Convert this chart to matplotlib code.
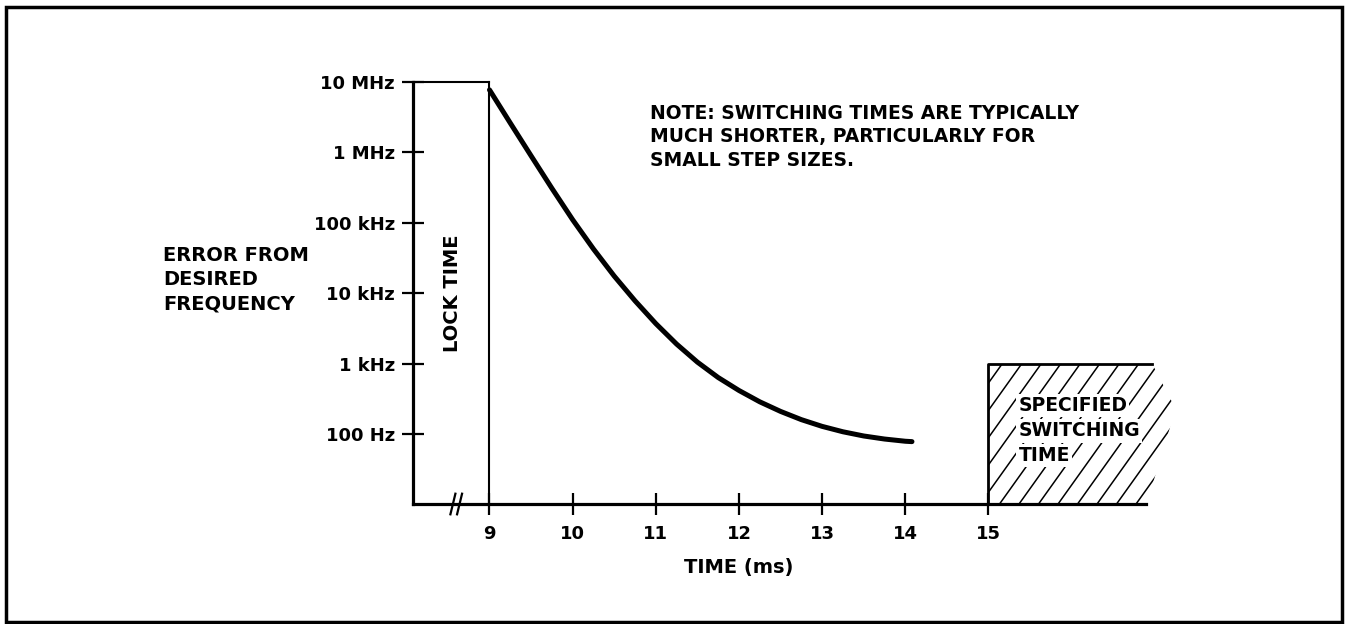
import matplotlib
matplotlib.use("Agg")
import numpy as np
import matplotlib.pyplot as plt
from matplotlib.patches import Rectangle, Polygon

plt.rcParams['font.family'] = ['DejaVu Sans']

# settling curve (time in ms, error in Hz)
curve_t = [9.0, 9.25, 9.5, 9.75, 10.0, 10.25, 10.5, 10.75, 11.0, 11.25, 11.5, 11.75,
           12.0, 12.25, 12.5, 12.75, 13.0, 13.25, 13.5, 13.75, 14.0, 14.08]
curve_err = [7.71e6, 2.61e6, 8.95e5, 3.1e5, 1.11e5, 4.27e4, 1.76e4, 7.85e3, 3.73e3, 1.91e3,
             1.06e3, 641, 420, 290, 212, 162, 130, 109, 95, 86, 80, 79]

x_ticks = [9, 10, 11, 12, 13, 14, 15]
y_ticks = [1e2, 1e3, 1e4, 1e5, 1e6, 1e7]
y_labels = ['100 Hz', '1 kHz', '10 kHz', '100 kHz', '1 MHz', '10 MHz']

lock_end = 9.0
spec_start = 15.0
spec_level = 1e3
t_min, t_max = 8.08, 17.4
f_min, f_max = 10.3, 1.5e7

fig = plt.figure(figsize=(13.47, 6.24), dpi=100)
ax = fig.add_axes([0.3066, 0.1923, 0.5754, 0.6963])
ax.set_yscale('log')
ax.set_xlim(t_min, t_max)
ax.set_ylim(f_min, f_max)

for s in ['top', 'right']:
    ax.spines[s].set_visible(False)
ax.spines['left'].set_linewidth(2.3)
ax.spines['bottom'].set_linewidth(2.3)
ax.spines['left'].set_bounds(f_min, 1e7)
ax.spines['bottom'].set_bounds(t_min, 16.9)

ax.set_xticks(x_ticks)
ax.set_xticklabels([str(t) for t in x_ticks])
ax.set_yticks(y_ticks)
ax.set_yticklabels(y_labels)
ax.minorticks_off()
ax.tick_params(direction='inout', length=16, width=1.6, labelsize=13, pad=5)
ax.tick_params(axis='x', pad=7)
for lab in ax.get_xticklabels() + ax.get_yticklabels():
    lab.set_fontweight('bold')

# lock time box
ax.plot([t_min, lock_end], [1e7, 1e7], color='black', lw=1.5)
ax.plot([lock_end, lock_end], [f_min, 1e7], color='black', lw=1.5)
ax.text(8.55, 1.02e4, 'LOCK TIME', rotation=90, ha='center', va='center',
        fontsize=14, fontweight='bold')

# axis break marks
for bx in [8.56, 8.64]:
    ax.plot([bx - 0.03, bx + 0.03], [f_min / 1.4, f_min * 1.4], color='black',
            lw=1.6, clip_on=False)

# settling curve
ax.plot(curve_t, curve_err, color='black', lw=3.6, solid_capstyle='round',
        solid_joinstyle='round')

# specified switching time region, hatched by hand (steeper and wider than '/')
region = Polygon([(spec_start, f_min), (spec_start, spec_level), (16.97, spec_level),
                  (17.25, 230), (17.1, 60), (16.9, f_min)],
                 closed=True, facecolor='white', edgecolor='none', lw=0)
ax.add_patch(region)
ax_w, ax_h = 775.0, 434.5
run = (ax_h / 1.4) / ax_w
for x0 in np.arange(988 - 320, 1190, 19.5):
    fx0 = (x0 - 413) / ax_w
    ln, = ax.plot([fx0, fx0 + run], [0, 1], transform=ax.transAxes, color='black', lw=1.1)
    ln.set_clip_path(region)
ax.plot([spec_start, spec_start, 16.97], [f_min, spec_level, spec_level],
        color='black', lw=2.0)
for txt, yv in [('SPECIFIED', 255), ('SWITCHING', 112), ('TIME', 50)]:
    ax.text(15.36, yv, txt, ha='left', va='center', fontsize=13.5, fontweight='bold',
            bbox=dict(facecolor='white', edgecolor='none', pad=1.5))

# note
ax.text(10.93, 4.9e6, 'NOTE: SWITCHING TIMES ARE TYPICALLY\nMUCH SHORTER, PARTICULARLY FOR\nSMALL STEP SIZES.',
        ha='left', va='top', fontsize=13.5, fontweight='bold', linespacing=1.3)

ax.set_xlabel('TIME (ms)', fontsize=14, fontweight='bold')
ax.xaxis.set_label_coords(0.42, -0.145)
ax.xaxis.label.set_va('center')

fig.text(163 / 1347, 1 - 246 / 624, 'ERROR FROM\nDESIRED\nFREQUENCY', ha='left', va='top',
         fontsize=14, fontweight='bold', linespacing=1.35)

fig.patches.append(Rectangle((0.0045, 0.0032), 0.9918, 0.9856, transform=fig.transFigure,
                             fill=False, edgecolor='black', lw=2.5))

fig.savefig('out.png', dpi=100)
